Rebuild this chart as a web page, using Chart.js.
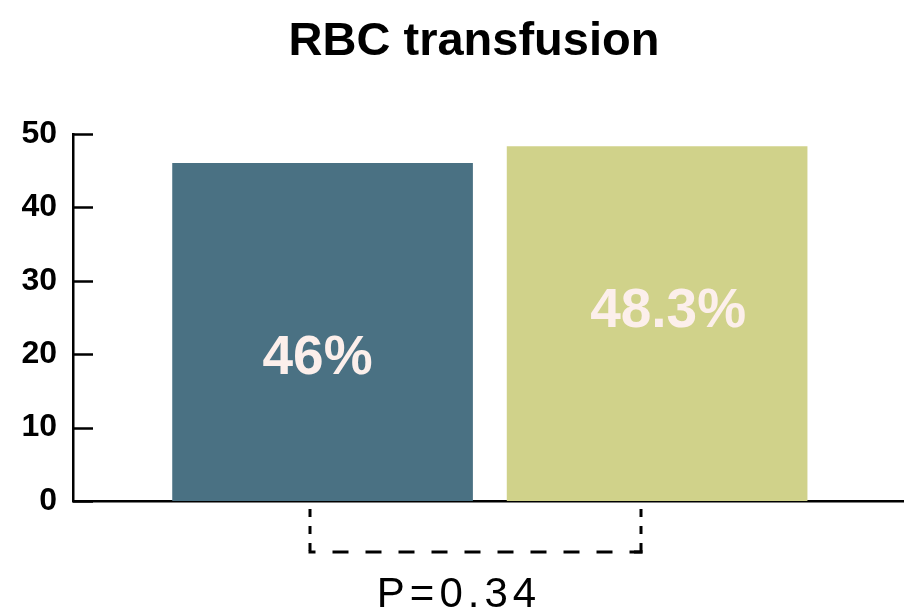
<!DOCTYPE html>
<html>
<head>
<meta charset="utf-8">
<script src="https://cdn.jsdelivr.net/npm/chart.js@4"></script>
<style>
  body { margin: 0; background: #fff; }
  #rbcChart { display: block; }
</style>
</head>
<body>
<canvas id="rbcChart" width="904" height="614"></canvas>
<script>
const chartTitle = 'RBC transfusion';
const groups = ['Group 1', 'Group 2'];
const transfusionRates = [46, 48.3];
const rateLabels = ['46%', '48.3%'];
const yTickValues = [0, 10, 20, 30, 40, 50];
const pValueText = 'P=0.34';
const barColors = ['#4a7183', '#d0d28a'];

// extra drawing: title, inward ticks, labels in bars, p-value bracket
const annotations = {
    id: 'annotations',
    afterDraw(chart) {
        const ctx = chart.ctx;
        const area = chart.chartArea;
        const xs = chart.scales.x;
        const ys = chart.scales.y;
        ctx.save();

        ctx.fillStyle = '#000';
        ctx.font = 'bold 47px "Liberation Sans", Arial, sans-serif';
        ctx.textAlign = 'center';
        ctx.textBaseline = 'alphabetic';
        ctx.fillText(chartTitle, 474, 55);

        ctx.strokeStyle = '#000';
        ctx.lineWidth = 2.5;
        yTickValues.forEach(v => {
            const y = Math.round(ys.getPixelForValue(v)) + 0.5;
            ctx.beginPath();
            ctx.moveTo(area.left, y);
            ctx.lineTo(area.left + 20, y);
            ctx.stroke();
        });

        // labels inside the bars, heights
        const labelAt = [19.6, 26.0];
        const labelShift = [-5, 11];
        ctx.fillStyle = '#fcefeb';
        ctx.font = 'bold 55px "Liberation Sans", Arial, sans-serif';
        ctx.textBaseline = 'middle';
        rateLabels.forEach((t, i) => {
            const x = xs.getPixelForValue(i + 1) + labelShift[i];
            ctx.fillText(t, x, ys.getPixelForValue(labelAt[i]) + 2);
        });

        // dashed bracket under the bars
        const left = Math.round(xs.getPixelForValue(1) - 13);
        const right = Math.round(xs.getPixelForValue(2) - 16);
        const top = area.bottom + 8;
        const bottom = area.bottom + 51;
        ctx.lineWidth = 3;
        ctx.setLineDash([8, 9]);
        [left, right].forEach(x => {
            ctx.beginPath();
            ctx.moveTo(x, top);
            ctx.lineTo(x, bottom);
            ctx.stroke();
        });
        ctx.setLineDash([16, 17]);
        ctx.lineDashOffset = 9;
        ctx.beginPath();
        ctx.moveTo(left - 1.5, bottom);
        ctx.lineTo(right + 1.5, bottom);
        ctx.stroke();
        ctx.setLineDash([]);
        ctx.beginPath();
        ctx.moveTo(right - 7, bottom);
        ctx.lineTo(right + 1.5, bottom);
        ctx.stroke();

        ctx.fillStyle = '#000';
        ctx.font = '42px "Liberation Sans", Arial, sans-serif';
        ctx.textBaseline = 'alphabetic';
        ctx.letterSpacing = '5px';
        ctx.fillText(pValueText, 459, 607);
        ctx.restore();
    }
};

const ctx = document.getElementById('rbcChart').getContext('2d');
const rbcChart = new Chart(ctx, {
    type: 'bar',
    data: {
        labels: groups,
        datasets: [{
            label: chartTitle,
            data: transfusionRates.map((v, i) => ({ x: i + 1, y: v })),
            backgroundColor: barColors,
            borderWidth: 0,
            barThickness: 300
        }]
    },
    options: {
        responsive: false,
        animation: false,
        layout: { padding: { top: 134, left: 0, right: 0, bottom: 0 } },
        plugins: {
            legend: { display: false },
            title: { display: false },
            tooltip: { enabled: false }
        },
        scales: {
            x: {
                type: 'linear',
                offset: false,
                min: 0.254,
                max: 2.738,
                ticks: { display: false },
                grid: { display: false, drawTicks: false, offset: false },
                border: { display: true, color: '#000', width: 2.5 },
                afterFit: scale => { scale.height = 113; }
            },
            y: {
                min: 0,
                max: 50,
                afterBuildTicks: scale => {
                    scale.ticks = yTickValues.map(v => ({ value: v }));
                },
                ticks: {
                    color: '#000',
                    padding: 16,
                    font: { family: '"Liberation Sans", Arial, sans-serif', size: 32, weight: 'bold' }
                },
                grid: { display: false, drawTicks: false },
                border: { display: true, color: '#000', width: 2.5 },
                afterFit: scale => { scale.width = 73; }
            }
        }
    },
    plugins: [annotations]
});
</script>
</body>
</html>
